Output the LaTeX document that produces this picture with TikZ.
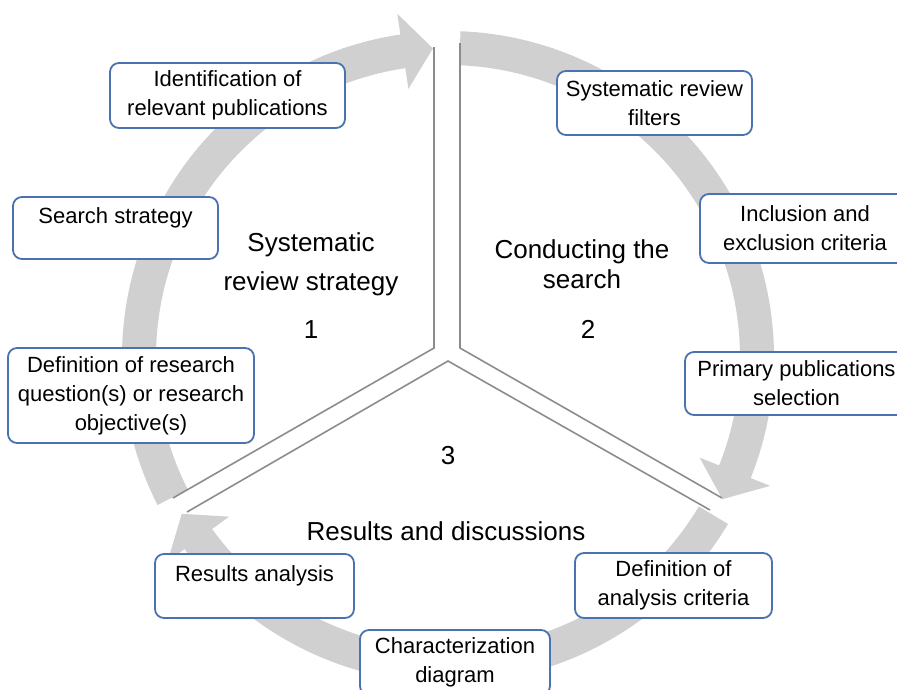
\documentclass[tikz,border=0pt]{standalone}
\usepackage{fontspec}
\setmainfont{Liberation Sans}
\usetikzlibrary{calc}
\definecolor{ringgray}{RGB}{208,208,208}
\definecolor{linegray}{RGB}{140,140,140}
\definecolor{boxblue}{RGB}{74,114,176}
\tikzset{
  stepbox/.style={draw=boxblue, line width=1.8pt, rounded corners=9pt, fill=white,
    align=center, inner sep=0pt, font=\fontsize{22}{29}\selectfont},
  phase/.style={align=center, font=\fontsize{26}{39}\selectfont},
  sepline/.style={draw=linegray, line width=1.6pt},
}
\begin{document}
\begin{tikzpicture}[x=1pt,y=-1pt]
\useasboundingbox (0,0) rectangle (897,689);
\clip (0,0) rectangle (897,689);
\coordinate (C) at (448,357);

% ring arrows
\fill[ringgray] ($(C)+(207:326pt)$) arc[start angle=207, end angle=98.4, radius=326pt]
  -- ($(C)+(98.4:347pt)$) -- ($(C)+(92.8:309pt)$) -- ($(C)+(98.4:271pt)$)
  -- ($(C)+(98.4:292pt)$) arc[start angle=98.4, end angle=207, radius=292pt] -- cycle;
\fill[ringgray] ($(C)+(87.8:326pt)$) arc[start angle=87.8, end angle=-21.8, radius=326pt]
  -- ($(C)+(-21.8:347pt)$) -- ($(C)+(-27.4:309pt)$) -- ($(C)+(-21.8:271pt)$)
  -- ($(C)+(-21.8:292pt)$) arc[start angle=-21.8, end angle=87.8, radius=292pt] -- cycle;
\fill[ringgray] ($(C)+(-30.8:326pt)$) arc[start angle=-30.8, end angle=-143.9, radius=326pt]
  -- ($(C)+(-143.9:347pt)$) -- ($(C)+(-149.5:309pt)$) -- ($(C)+(-143.9:271pt)$)
  -- ($(C)+(-143.9:292pt)$) arc[start angle=-143.9, end angle=-30.8, radius=292pt] -- cycle;

% separators
\draw[sepline] (434,47) -- (434,348) -- (173,498);
\draw[sepline] (460,43) -- (460,348) -- (722,498);
\draw[sepline] (187,512) -- (448,361) -- (710,510);

% steps
\node[stepbox, minimum width=235, minimum height=65] (identify) at (227.5,95.5) {Identification of\\relevant publications};
\node[stepbox, minimum width=205, minimum height=62] (search) at (115.5,228) {Search strategy\\[-12pt]\strut};
\node[stepbox, minimum width=246, minimum height=95] (question) at (131,395.5) {Definition of research\\question(s) or research\\objective(s)};
\node[stepbox, minimum width=195, minimum height=64] (filters) at (654.5,103) {Systematic review\\filters};
\node[stepbox, minimum width=210, minimum height=69] (criteria) at (805,228.5) {Inclusion and\\exclusion criteria};
\node[stepbox, minimum width=223, minimum height=63] (selection) at (796.5,383.5) {Primary publications\\selection};
\node[stepbox, minimum width=197, minimum height=65] (analysiscrit) at (673.5,585.5) {Definition of\\analysis criteria};
\node[stepbox, minimum width=190, minimum height=65] (chardiagram) at (455,662.5) {Characterization\\diagram};
\node[stepbox, minimum width=199, minimum height=64] (results) at (254.5,586) {Results analysis\\[-12pt]\strut};

% phases
\node[phase] (phaseone) at (311,264) {Systematic\\review strategy};
\node[phase] (numone) at (311,330) {1};
\node[phase, font=\fontsize{26}{30}\selectfont] (phasetwo) at (582,264) {Conducting the\\search};
\node[phase] (numtwo) at (588,329) {2};
\node[phase] (numthree) at (448,456) {3};
\node[phase] (phasethree) at (446,531) {Results and discussions};
\end{tikzpicture}
\end{document}
